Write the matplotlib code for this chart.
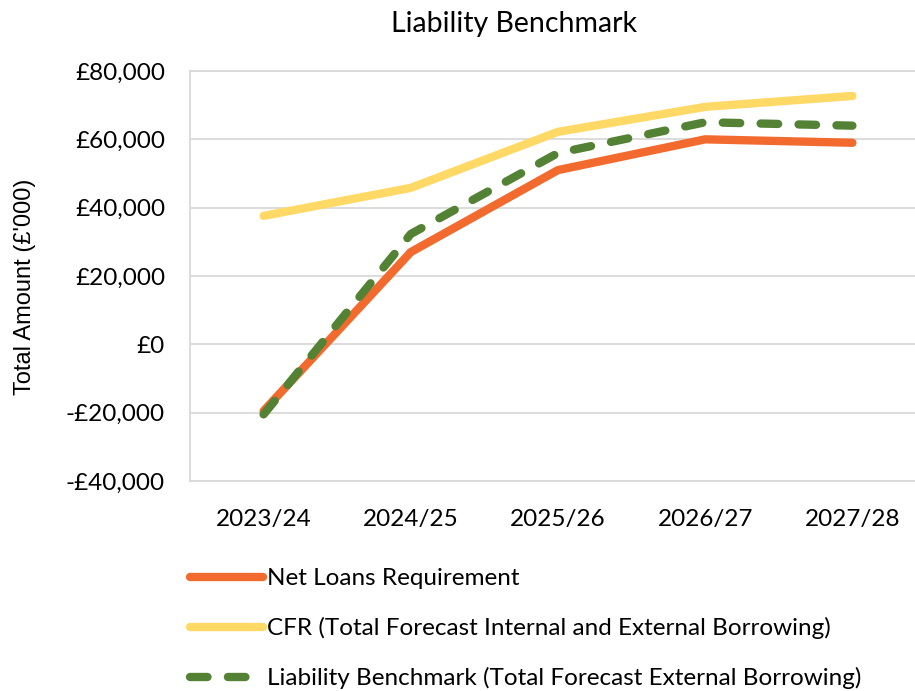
import matplotlib
matplotlib.use("Agg")
import matplotlib.pyplot as plt
from matplotlib.ticker import FuncFormatter

years = ["2023/24", "2024/25", "2025/26", "2026/27", "2027/28"]
net_loans = [-19500, 27000, 51000, 60000, 59000]
cfr = [37600, 45800, 62200, 69500, 72700]
liability = [-20500, 32300, 56000, 65000, 64000]

plt.rcParams['font.family'] = ['Lato', 'DejaVu Sans']

fig = plt.figure(figsize=(9.15, 6.91), dpi=100)
ax = fig.add_axes([190/915, 1-481/691, (926-190)/915, (481-71)/691])

x = list(range(len(years)))
l1, = ax.plot(x, net_loans, color='#F26A2D', lw=6, solid_capstyle='round', solid_joinstyle='round',
              label='Net Loans Requirement', zorder=3)
l2, = ax.plot(x, cfr, color='#FFD966', lw=6, solid_capstyle='round', solid_joinstyle='round',
              label='CFR (Total Forecast Internal and External Borrowing)', zorder=2)
l3, = ax.plot(x, liability, color='#548235', lw=6, dash_capstyle='round', dash_joinstyle='round',
              linestyle=(0, (2.1, 2.45)), label='Liability Benchmark (Total Forecast External Borrowing)', zorder=4)

ax.set_xlim(-0.5, 4.5)
ax.set_ylim(-40000, 80000)
ax.set_yticks(range(-40000, 80001, 20000))
ax.set_xticks(x)
ax.set_xticklabels(years)

def fmt(v, pos):
    v = int(round(v))
    if v < 0:
        return "-£{:,}".format(-v)
    return "£{:,}".format(v)
ax.yaxis.set_major_formatter(FuncFormatter(fmt))

ax.grid(axis='y', color='#D9D9D9', lw=1.3)
ax.set_axisbelow(True)
for s in ax.spines.values():
    s.set_color('#D9D9D9')
    s.set_linewidth(1.3)
ax.tick_params(axis='both', length=0, labelsize=17.5, colors='black')
ax.tick_params(axis='y', pad=18)
ax.tick_params(axis='x', pad=20)

fig.text(25/915, 1-287/691, "Total Amount (£'000)", rotation=90, ha='center', va='center',
         fontsize=17, family=['Liberation Sans', 'DejaVu Sans'])
fig.text(514/915, 1-24/691, "Liability Benchmark", ha='center', va='center', fontsize=20.5)

fig.legend(handles=[l1, l2, l3], loc='upper left', bbox_to_anchor=(190/915, 1-568/691),
           frameon=False, fontsize=17.5, handlelength=3.0, handletextpad=0.15, labelspacing=1.15,
           borderaxespad=0, borderpad=0)

fig.savefig("out.png", dpi=100)
